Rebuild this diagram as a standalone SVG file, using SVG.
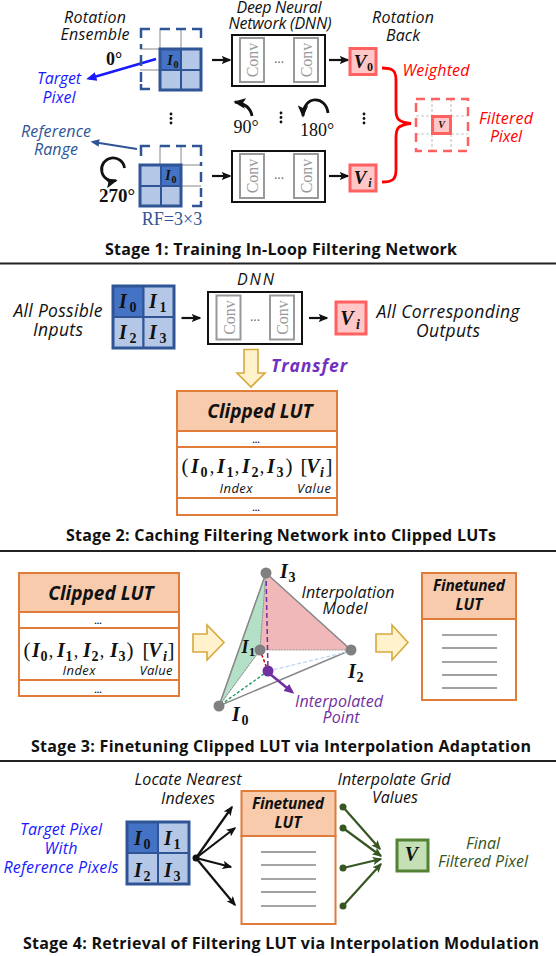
<svg xmlns="http://www.w3.org/2000/svg" width="556" height="956" viewBox="0 0 556 956">
<style>
text{font-family:"Open Sans","Noto Sans","Liberation Sans",sans-serif;text-anchor:middle;fill:#111}
.t{font-size:16px;font-style:italic}
.tb{font-size:17.500px;font-style:italic}
.s{font-size:16px;font-weight:700;fill:#111}
.m{font-family:"Liberation Serif",serif;font-weight:700;font-style:italic;fill:#111}
.n{font-family:"Liberation Serif",serif;font-weight:700;fill:#111}
.r{font-family:"Liberation Serif",serif;fill:#111}
.blue{fill:#1a1aff}.navy{fill:#2f5597}.red{fill:#f00}.pur{fill:#7030a0}.grn{fill:#375623}
.dk{fill:#4472c4;stroke:#2f5597;stroke-width:2}
.lt{fill:#b4c7e7;stroke:#2f5597;stroke-width:2}
.gl{stroke:#b0b0b0;stroke-width:1.5;fill:none}
.dash{fill:none;stroke:#2f5597;stroke-width:2.5}
.out{fill:none;stroke:#2f5597;stroke-width:3}
.dnn{fill:#fff;stroke:#111;stroke-width:2}
.cv{fill:#fff;stroke:#999;stroke-width:2}
.cvt{font-family:"Liberation Serif",serif;font-size:16px;fill:#999}
.vb{fill:#ffc7c7;stroke:#ff6060;stroke-width:3}
.lut{fill:#fff;stroke:#e07b39;stroke-width:2}
.hd{fill:#f7cbac;stroke:#e07b39;stroke-width:2}
.lh{font-size:19px;font-weight:700;font-style:italic}
.lh2{font-size:15.500px;font-weight:700;font-style:italic}
.ix{font-size:13px;font-style:italic}
.ar{stroke:#111;stroke-width:2.2;fill:none;marker-end:url(#k)}
.rot{stroke:#111;stroke-width:2.800;fill:none;marker-end:url(#k)}
.ya{fill:#fff2cc;stroke:#d6a93b;stroke-width:1.6}
.sep{stroke:#222;stroke-width:1.8}
.ln{stroke:#444;stroke-width:1.2;fill:none}
.lg{stroke:#888;stroke-width:1.4;fill:none}
.ge{stroke:#375623;stroke-width:2.2;fill:none;marker-end:url(#g)}
.d{font-size:9px;font-weight:700}
.dots{fill:#666;font-size:13px}
</style>
<defs>
<marker id="k" markerWidth="4.4" markerHeight="3.800" refX="6" refY="3" orient="auto" markerUnits="strokeWidth" viewBox="0 0 7 6"><path d="M0 0L7 3L0 6L1.500 3Z" fill="#111"/></marker>
<marker id="g" markerWidth="4.4" markerHeight="3.800" refX="6" refY="3" orient="auto" markerUnits="strokeWidth" viewBox="0 0 7 6"><path d="M0 0L7 3L0 6L1.500 3Z" fill="#375623"/></marker>
<marker id="b" markerWidth="4" markerHeight="3.400" refX="5" refY="3" orient="auto" markerUnits="strokeWidth" viewBox="0 0 7 6"><path d="M0 0L7 3L0 6Z" fill="#1a1aff"/></marker>
<marker id="n" markerWidth="4" markerHeight="3.400" refX="5" refY="3" orient="auto" markerUnits="strokeWidth" viewBox="0 0 7 6"><path d="M0 0L7 3L0 6Z" fill="#2f5597"/></marker>
<marker id="p" markerWidth="4" markerHeight="3.400" refX="5" refY="3" orient="auto" markerUnits="strokeWidth" viewBox="0 0 7 6"><path d="M0 0L7 3L0 6Z" fill="#7030a0"/></marker>
</defs>

<g id="connectors">
<path class="ar" d="M212 60H230"/>
<path class="ar" d="M329 60H348"/>
<path class="ar" d="M212 176H230"/>
<path class="ar" d="M329 176H348"/>
<path class="rot" d="M252 116Q250 104 235 102"/>
<path class="rot" d="M328 113C326 95 303 95 303 116"/>
<path class="rot" d="M124.500 168A11.500 11.500 0 1 0 116 180.500"/>
<path d="M156 59L89 78.500" stroke="#1a1aff" stroke-width="2.600" fill="none" marker-end="url(#b)"/>
<path d="M137 149L93 142" stroke="#2f5597" stroke-width="2.200" fill="none" marker-end="url(#n)"/>
<path d="M382 68C392 68 396 70 396 80V110C396 119 398 122 411 123.500C398 125 396 128 396 138V170C396 180 392 182 382 182" fill="none" stroke="#f00" stroke-width="2.800"/>
<path class="ar" d="M181.500 318H200"/>
<path class="ar" d="M309 318H327"/>
<path class="ar" d="M196 858L232 807"/>
<path class="ar" d="M196 858L235 828"/>
<path class="ar" d="M196 858L231 867"/>
<path class="ar" d="M196 858L235 905"/>
<path class="ge" d="M343 807L380 849"/>
<path class="ge" d="M343 828L381 856"/>
<path class="ge" d="M343 868L381 859"/>
<path class="ge" d="M343 906L381 864"/>
</g>

<g id="stage1">
<text class="t" x="95" y="23" textLength="62">Rotation</text><text class="t" x="95" y="40" textLength="69">Ensemble</text>
<text class="t" x="279" y="13" textLength="85">Deep Neural</text><text class="t" x="280" y="29" textLength="103">Network (DNN)</text>
<text class="t" x="403" y="23" textLength="62">Rotation</text><text class="t" x="403" y="41" textLength="34">Back</text>
<text class="n" x="114" y="65" font-size="18">0°</text>
<text class="t blue" x="59" y="84" textLength="44">Target</text><text class="t blue" x="59" y="103" textLength="33">Pixel</text>
<text class="t navy" x="56" y="137" textLength="70">Reference</text><text class="t navy" x="56" y="155" textLength="44">Range</text>
<text class="n" x="117" y="202" font-size="19">270°</text>
<text class="r navy" x="172" y="225" font-size="18">RF=3×3</text>
<text class="r" x="246" y="133" font-size="18">90°</text>
<text class="r" x="317" y="136" font-size="18">180°</text>
<g id="grid-top">
<path class="gl" d="M160 28V49M181 28V49M140 49H160M140 70H160"/>
<path class="dash" d="M141 38V29H150M160 29H170M176 29H186M192 29H201V38M141 44V49M141 55V66M141 72V82M141 84V89H150"/>
<rect class="lt" x="181" y="49" width="20" height="21"/><rect class="lt" x="160" y="70" width="21" height="20"/><rect class="lt" x="181" y="70" width="20" height="20"/>
<rect class="dk" x="160" y="49" width="21" height="21"/>
<rect class="out" x="160" y="49" width="41" height="41"/>
<text class="m" x="170" y="65" font-size="14">I</text><text class="n" x="176" y="68" font-size="10">0</text>
</g>
<g id="grid-bottom">
<path class="gl" d="M160 145V165M181 145V165M181 165H201M181 186H201"/>
<path class="dash" d="M141 156V146H150M160 146H170M176 146H186M192 146H201V156M201 162V166M201 172V182M201 188V197M201 201V206H192"/>
<rect class="lt" x="140" y="165" width="21" height="21"/><rect class="lt" x="140" y="186" width="21" height="20"/><rect class="lt" x="161" y="186" width="20" height="20"/>
<rect class="dk" x="161" y="165" width="20" height="21"/>
<rect class="out" x="140" y="165" width="41" height="41"/>
<text class="m" x="168" y="180" font-size="14">I</text><text class="n" x="174" y="183" font-size="10">0</text>
</g>
<g id="dnn-top">
<rect class="dnn" x="232" y="35" width="93" height="51"/>
<rect class="cv" x="240" y="38" width="24" height="44"/><rect class="cv" x="294" y="38" width="24" height="44"/>
<text class="cvt" transform="translate(258 60) rotate(-90)">Conv</text><text class="cvt" transform="translate(312 60) rotate(-90)">Conv</text>
<text class="dots" x="279" y="63">...</text>
</g>
<g id="dnn-bottom">
<rect class="dnn" x="232" y="151" width="93" height="51"/>
<rect class="cv" x="240" y="154" width="24" height="44"/><rect class="cv" x="294" y="154" width="24" height="44"/>
<text class="cvt" transform="translate(258 176) rotate(-90)">Conv</text><text class="cvt" transform="translate(312 176) rotate(-90)">Conv</text>
<text class="dots" x="279" y="179">...</text>
</g>
<g id="v0"><rect class="vb" x="350" y="48.500" width="26" height="26"/><text class="m" x="360" y="68" font-size="19">V</text><text class="n" x="370" y="71" font-size="12">0</text></g>
<g id="vi"><rect class="vb" x="350" y="165" width="26" height="26"/><text class="m" x="360" y="184" font-size="19">V</text><text class="m" x="370" y="187" font-size="12">i</text></g>
<text class="t red" x="436" y="76" textLength="67">Weighted</text>
<text class="t red" x="506" y="124" textLength="54">Filtered</text><text class="t red" x="506" y="142" textLength="32">Pixel</text>
<g id="filtered">
<path d="M432 99V151M451 99V151M416 116H468M416 134H468" stroke="#c8c8c8" stroke-width="1.200" stroke-dasharray="3 2" fill="none"/>
<rect x="416" y="99" width="52" height="52" fill="none" stroke="#ff6060" stroke-width="2.500" stroke-dasharray="9 6"/>
<rect class="vb" x="432.500" y="116.500" width="18" height="17" stroke-width="2"/>
<text class="m" x="441.500" y="128" font-size="10">V</text>
</g>
<g fill="#111"><circle cx="171" cy="114" r="1.400"/><circle cx="171" cy="118.500" r="1.400"/><circle cx="171" cy="123" r="1.400"/>
<circle cx="281" cy="113" r="1.400"/><circle cx="281" cy="117.500" r="1.400"/><circle cx="281" cy="122" r="1.400"/>
<circle cx="364" cy="114" r="1.400"/><circle cx="364" cy="118.500" r="1.400"/><circle cx="364" cy="123" r="1.400"/></g>
<text class="s" x="281" y="255" textLength="352">Stage 1: Training In-Loop Filtering Network</text>
</g>
<path class="sep" d="M0 263.500H556"/>

<g id="stage2">
<text class="tb" x="58" y="317" textLength="89">All Possible</text><text class="tb" x="58" y="336" textLength="50">Inputs</text>
<text class="t" x="255.500" y="285" textLength="37">DNN</text>
<g id="grid-in">
<rect class="dk" x="113" y="286" width="30.500" height="31"/><rect class="lt" x="143.500" y="286" width="30.500" height="31"/><rect class="lt" x="113" y="317" width="30.500" height="31"/><rect class="lt" x="143.500" y="317" width="30.500" height="31"/>
<rect class="out" x="113" y="286" width="61" height="62" stroke-width="2"/>
<text class="m" x="123" y="308" font-size="20">I</text><text class="n" x="133" y="312" font-size="14">0</text>
<text class="m" x="153" y="308" font-size="20">I</text><text class="n" x="163" y="312" font-size="14">1</text>
<text class="m" x="123" y="339" font-size="20">I</text><text class="n" x="133" y="343" font-size="14">2</text>
<text class="m" x="153" y="339" font-size="20">I</text><text class="n" x="163" y="343" font-size="14">3</text>
</g>
<g id="dnn2">
<rect class="dnn" x="208" y="292" width="94" height="52"/>
<rect class="cv" x="216.500" y="295.500" width="24" height="44"/><rect class="cv" x="270" y="295.500" width="24" height="44"/>
<text class="cvt" transform="translate(234.500 317.500) rotate(-90)">Conv</text><text class="cvt" transform="translate(288 317.500) rotate(-90)">Conv</text>
<text class="dots" x="255" y="321">...</text>
</g>
<g id="vi2"><rect class="vb" x="336" y="302" width="30" height="32"/><text class="m" x="347" y="325" font-size="20">V</text><text class="m" x="358" y="329" font-size="14">i</text></g>
<text class="tb" x="448" y="318" textLength="143">All Corresponding</text><text class="tb" x="448" y="337" textLength="64">Outputs</text>
<path class="ya" d="M244 349.500H258V373H265L251 387L237 373H244Z"/>
<text class="pur" x="309" y="372" font-size="17.500" font-weight="700" font-style="italic" textLength="76" style="fill:#7030c0">Transfer</text>
<g id="lut2">
<rect class="hd" x="177" y="391" width="160" height="40"/>
<rect class="lut" x="177" y="431" width="160" height="16"/><rect class="lut" x="177" y="447" width="160" height="51"/><rect class="lut" x="177" y="498" width="160" height="17"/>
<text class="lh" x="260" y="418">Clipped LUT</text>
<text class="d" x="256" y="443">...</text><text class="d" x="256" y="511">...</text>
<text class="r" x="185" y="473" font-size="21">(</text>
<text class="m" x="195" y="473" font-size="20">I</text><text class="n" x="204" y="477" font-size="14">0</text><text class="r" x="212" y="473" font-size="18">,</text>
<text class="m" x="221" y="473" font-size="20">I</text><text class="n" x="230" y="477" font-size="14">1</text><text class="r" x="237" y="473" font-size="18">,</text>
<text class="m" x="246" y="473" font-size="20">I</text><text class="n" x="255" y="477" font-size="14">2</text><text class="r" x="262" y="473" font-size="18">,</text>
<text class="m" x="271" y="473" font-size="20">I</text><text class="n" x="280" y="477" font-size="14">3</text>
<text class="r" x="289" y="473" font-size="21">)</text>
<text class="r" x="304" y="473" font-size="21">[</text><text class="m" x="313" y="473" font-size="20">V</text><text class="m" x="322" y="477" font-size="14">i</text><text class="r" x="329" y="473" font-size="21">]</text>
<text class="ix" x="236" y="493" textLength="33">Index</text><text class="ix" x="314" y="493" textLength="34">Value</text>
</g>
<text class="s" x="281" y="541" textLength="430">Stage 2: Caching Filtering Network into Clipped LUTs</text>
</g>
<path class="sep" d="M0 551H556"/>

<g id="stage3">
<g id="lut3">
<rect class="hd" x="19" y="573" width="160" height="39"/>
<rect class="lut" x="19" y="612" width="160" height="16"/><rect class="lut" x="19" y="628" width="160" height="52"/><rect class="lut" x="19" y="680" width="160" height="16"/>
<text class="lh" x="101" y="600">Clipped LUT</text>
<text class="d" x="98" y="624">...</text><text class="d" x="98" y="693">...</text>
<text class="r" x="27" y="657" font-size="21">(</text>
<text class="m" x="36" y="657" font-size="20">I</text><text class="n" x="44" y="661" font-size="14">0</text><text class="r" x="51" y="657" font-size="18">,</text>
<text class="m" x="61" y="657" font-size="20">I</text><text class="n" x="69" y="661" font-size="14">1</text><text class="r" x="76" y="657" font-size="18">,</text>
<text class="m" x="87" y="657" font-size="20">I</text><text class="n" x="95" y="661" font-size="14">2</text><text class="r" x="102" y="657" font-size="18">,</text>
<text class="m" x="114" y="657" font-size="20">I</text><text class="n" x="122" y="661" font-size="14">3</text>
<text class="r" x="130" y="657" font-size="21">)</text>
<text class="r" x="146" y="657" font-size="21">[</text><text class="m" x="155" y="657" font-size="20">V</text><text class="m" x="165" y="661" font-size="14">i</text><text class="r" x="171" y="657" font-size="21">]</text>
<text class="ix" x="79" y="675" textLength="33">Index</text><text class="ix" x="156" y="675" textLength="33">Value</text>
</g>
<path class="ya" d="M193 634H207V625L224 642.500L207 660V652H193Z"/>
<g id="tetra">
<path d="M219 706L266 573L260 650Z" fill="#b5e0c8" stroke="#999" stroke-width="1" stroke-dasharray="2 1"/>
<path d="M266 573L351 650H260Z" fill="#f0b8b8" stroke="#999" stroke-width="1" stroke-dasharray="2 1"/>
<path d="M266 573L351 650L219 706Z" fill="none" stroke="#888" stroke-width="1.500"/>
<path d="M260 650L219 706" stroke="#999" stroke-width="1" stroke-dasharray="2 1"/>
<path d="M268 671L351 651" stroke="#bdd7ee" stroke-width="1.300" stroke-dasharray="4 2"/>
<path d="M268 671L219 706" stroke="#22a060" stroke-width="1.400" stroke-dasharray="3 2"/>
<path d="M260 650L268 671" stroke="#c00000" stroke-width="1.500" stroke-dasharray="3 2"/>
<path d="M266 573L268 671" stroke="#7030a0" stroke-width="1.500" stroke-dasharray="5 3"/>
<path d="M270 674L292 692" stroke="#7030a0" stroke-width="2.600" marker-end="url(#p)"/>
<g fill="#808080"><circle cx="266" cy="573" r="5.500"/><circle cx="260" cy="650" r="5.500"/><circle cx="351" cy="650" r="5.500"/><circle cx="219" cy="706" r="5.500"/></g>
<circle cx="268" cy="671" r="5.500" fill="#7030a0"/>
<text class="m" x="284" y="578" font-size="20">I</text><text class="n" x="292" y="582" font-size="14">3</text>
<text class="m" x="245" y="653" font-size="18">I</text><text class="n" x="252" y="656" font-size="13">1</text>
<text class="m" x="352" y="678" font-size="20">I</text><text class="n" x="360" y="682" font-size="14">2</text>
<text class="m" x="236" y="721" font-size="20">I</text><text class="n" x="245" y="725" font-size="14">0</text>
</g>
<text class="t" x="348" y="598" textLength="93">Interpolation</text><text class="t" x="345" y="614" textLength="45">Model</text>
<text class="t pur" x="339" y="707" textLength="88">Interpolated</text><text class="t pur" x="341" y="723" textLength="37">Point</text>
<path class="ya" d="M376 634H392V625L408 642.500L392 660V652H376Z"/>
<g id="flut3">
<rect class="hd" x="422" y="573" width="94" height="46"/><rect class="lut" x="422" y="619" width="94" height="81"/>
<text class="lh2" x="469" y="591" textLength="72">Finetuned</text><text class="lh2" x="469" y="610">LUT</text>
<path class="lg" d="M442 635H497M442 662H497"/>
<path class="ln" d="M442 648H497M442 675H497M442 688H497"/>
</g>
<text class="s" x="281" y="752" textLength="500">Stage 3: Finetuning Clipped LUT via Interpolation Adaptation</text>
</g>
<path class="sep" d="M0 761H556"/>

<g id="stage4">
<text class="t" x="188" y="785" textLength="107">Locate Nearest</text><text class="t" x="188" y="804" textLength="54">Indexes</text>
<text class="t" x="394" y="785" textLength="113">Interpolate Grid</text><text class="t" x="395" y="803" textLength="46">Values</text>
<text class="t blue" x="61" y="835" textLength="82">Target Pixel</text><text class="t blue" x="61" y="854" textLength="33">With</text><text class="t blue" x="61" y="873" textLength="115">Reference Pixels</text>
<g id="grid-in4">
<rect class="dk" x="127" y="822" width="31" height="31"/><rect class="lt" x="158" y="822" width="31" height="31"/><rect class="lt" x="127" y="853" width="31" height="31"/><rect class="lt" x="158" y="853" width="31" height="31"/>
<rect class="out" x="127" y="822" width="62" height="62" stroke-width="2"/>
<text class="m" x="138" y="845" font-size="20">I</text><text class="n" x="147" y="849" font-size="14">0</text>
<text class="m" x="168" y="845" font-size="20">I</text><text class="n" x="177" y="849" font-size="14">1</text>
<text class="m" x="138" y="877" font-size="20">I</text><text class="n" x="147" y="881" font-size="14">2</text>
<text class="m" x="168" y="877" font-size="20">I</text><text class="n" x="177" y="881" font-size="14">3</text>
</g>
<circle cx="196" cy="858" r="3.500" fill="#111"/>
<g id="flut4">
<rect class="hd" x="241.500" y="791" width="94" height="45"/><rect class="lut" x="241.500" y="836" width="94" height="88"/>
<text class="lh2" x="288" y="809" textLength="72">Finetuned</text><text class="lh2" x="288" y="828">LUT</text>
<path class="ln" d="M261 852H316M261 892H316"/><path class="lg" d="M261 865H316M261 879H316M261 906H316"/>
</g>
<g fill="#375623"><circle cx="343" cy="807" r="3.500"/><circle cx="343" cy="828" r="3.500"/><circle cx="343" cy="868" r="3.500"/><circle cx="343" cy="906" r="3.500"/></g>
<g id="v4"><rect x="397" y="840" width="31" height="31" fill="#c5e0b4" stroke="#548235" stroke-width="3"/><text class="m" x="411.500" y="861" font-size="20">V</text></g>
<text class="t grn" x="483" y="849" textLength="34">Final</text><text class="t grn" x="483" y="867" textLength="90">Filtered Pixel</text>
<text class="s" x="281" y="949" textLength="516">Stage 4: Retrieval of Filtering LUT via Interpolation Modulation</text>
</g>
</svg>
